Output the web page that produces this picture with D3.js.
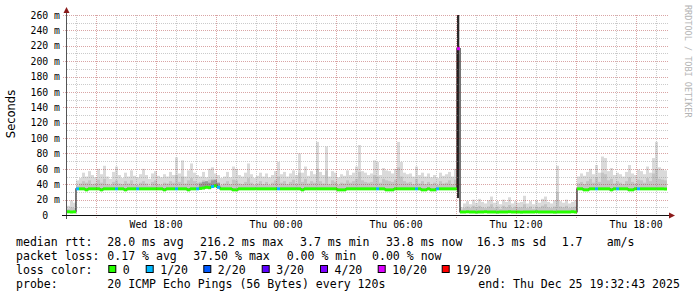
<!DOCTYPE html>
<html>
<head>
<meta charset="utf-8">
<script src="https://cdn.jsdelivr.net/npm/d3@7"></script>
<style>
body { margin: 0; background: #fff; }
svg { display: block; }
text { font-family: "DejaVu Sans Mono", monospace; }
</style>
</head>
<body>
<svg width="697" height="297"></svg>
<script>
var startTime = new Date(2025, 11, 24, 13, 32, 43);
var endTime = new Date(2025, 11, 25, 19, 32, 43);
var stepMs = 540 * 1000; // one consolidated sample every 9 minutes

// median rtt per sample (ms)
var median = [
    4.2, 3.9, 4.1, 34, 34, 34, 32.7, 34, 34, 34,
    34, 32.7, 34, 34, 34, 34, 34, 34, 34, 32.7,
    34, 34, 34, 34, 34, 34, 34, 34, 34, 34,
    34, 34, 32.7, 34, 34, 34, 34, 34, 34, 34,
    32.7, 34, 34, 34, 34.5, 35, 36, 35.5, 37, 38,
    36, 34, 34, 34, 34, 32.7, 32.7, 34, 34, 34,
    34, 34, 34, 34, 34, 34, 34, 34, 34, 34,
    34, 34, 34, 34, 34, 34, 34, 34, 32.7, 34,
    34, 34, 34, 34, 34, 34, 34, 34, 34, 34,
    32.7, 32.7, 32.7, 34, 34, 34, 34, 34, 34, 34,
    34, 34, 34, 34, 34, 34, 32.7, 32.7, 32.7, 34,
    34, 34, 34, 34, 34, 34, 34, 34, 32.7, 32.7,
    34, 32.7, 32.7, 34, 34, 34, 34, 34, 34, 34,
    216.2, 3.9, 3.9, 4.2, 3.9, 3.9, 3.7, 3.9, 3.9, 4.2,
    3.9, 3.9, 3.9, 3.7, 3.9, 3.9, 3.9, 4.2, 3.9, 3.9,
    3.9, 3.7, 3.9, 3.9, 3.9, 3.9, 4.2, 3.9, 3.9, 3.9,
    3.9, 3.9, 3.7, 3.9, 3.9, 3.9, 3.9, 3.9, 4.2, 3.9,
    34, 34, 32.7, 32.7, 34, 34, 34, 34, 34, 34,
    34, 32.7, 34, 34, 34, 34, 34, 32.7, 32.7, 34,
    34, 34, 34, 34, 34, 34, 34, 34, 34, 33.8
];

// upper smoke (slowest pings, ms)
var smokeHi = [
    12, 19, 16, 45, 48, 55, 50, 57, 52, 49,
    60, 53, 64, 50, 47, 56, 63, 52, 48, 55,
    50, 58, 51, 49, 53, 60, 52, 47, 54, 57,
    51, 49, 53, 50, 56, 52, 75, 54, 71, 50,
    58, 67, 55, 52, 50, 56, 49, 60, 62, 54,
    52, 48, 50, 56, 49, 63, 60, 52, 50, 55,
    67, 53, 48, 51, 55, 50, 54, 49, 52, 57,
    69, 53, 56, 50, 54, 58, 52, 80, 55, 63,
    51, 57, 53, 95, 56, 52, 89, 50, 57, 55,
    49, 53, 51, 58, 52, 55, 63, 91, 57, 55,
    52, 54, 71, 69, 52, 61, 58, 57, 54, 60,
    95, 69, 55, 53, 54, 50, 63, 52, 55, 50,
    54, 49, 52, 48, 55, 51, 53, 56, 50, 60,
    270, 10, 15, 18, 14, 20, 16, 21, 17, 15,
    19, 24, 16, 18, 14, 20, 17, 23, 15, 18,
    16, 17, 25, 15, 18, 14, 19, 16, 21, 24,
    17, 15, 19, 64, 18, 16, 20, 15, 17, 19,
    50, 54, 51, 56, 60, 53, 65, 55, 76, 74,
    57, 61, 52, 55, 53, 50, 56, 65, 54, 52,
    59, 57, 53, 63, 55, 74, 95, 62, 60, 58
];

// inner smoke (ms)
var smokeMid = [
    8, 10, 9, 38, 41, 44, 42, 45, 40, 41,
    46, 42, 47, 40, 39, 43, 45, 41, 40, 44,
    41, 45, 40, 39, 42, 44, 41, 38, 43, 45,
    40, 39, 42, 41, 44, 42, 52, 43, 50, 41,
    45, 48, 44, 42, 43, 45, 41, 46, 47, 44,
    42, 39, 41, 44, 40, 46, 45, 41, 40, 43,
    48, 42, 39, 41, 44, 40, 43, 39, 42, 45,
    50, 42, 44, 40, 43, 46, 41, 55, 43, 47,
    41, 44, 42, 60, 44, 41, 58, 40, 45, 43,
    39, 42, 41, 45, 42, 44, 47, 56, 45, 43,
    42, 43, 52, 50, 42, 47, 45, 44, 43, 46,
    62, 50, 44, 42, 43, 40, 47, 41, 44, 40,
    43, 40, 42, 39, 44, 41, 42, 45, 40, 46,
    270, 7, 9, 11, 9, 12, 10, 12, 10, 9,
    11, 14, 9, 11, 8, 12, 10, 13, 9, 11,
    10, 10, 14, 9, 11, 8, 11, 10, 12, 14,
    10, 9, 11, 30, 11, 10, 12, 9, 10, 11,
    41, 43, 40, 44, 47, 42, 49, 43, 55, 53,
    45, 47, 41, 44, 42, 40, 44, 49, 43, 41,
    46, 45, 42, 48, 44, 54, 60, 47, 46, 45
];

// dense smoke patches
var darkIdx = [44, 45, 46, 47, 48, 49, 50, 130];
var darkLo = [34, 35, 36, 36, 37, 38, 36, 22];
var darkHi = [41, 43, 44, 42, 45, 46, 42, 275];

// samples with packet loss (lost pings out of 20)
var lossIdx = [3, 16, 23, 36, 43, 48, 50, 70, 103, 116, 123, 130, 176, 183, 190];
var lossCount = [1, 1, 1, 1, 1, 1, 1, 1, 1, 1, 1, 10, 1, 1, 1];

var lossLevels = [0, 1, 2, 3, 4, 10, 19];
var lossLabels = ["0", "1/20", "2/20", "3/20", "4/20", "10/20", "19/20"];
var lossColors = ["#26ff00", "#00b8ff", "#0059ff", "#5e00ff", "#7e00ff", "#dd00ff", "#ff0000"];

var yTicks = [0, 20, 40, 60, 80, 100, 120, 140, 160, 180, 200, 220, 240, 260];

var rttLegend = ["median rtt:", "28.0 ms avg", "216.2 ms max", "3.7 ms min", "33.8 ms now", "16.3 ms sd", "1.7", "am/s"];
var lossLegend = ["packet loss:", "0.17 % avg", "37.50 % max", "0.00 % min", "0.00 % now"];
var probeLegend = ["probe:", "20 ICMP Echo Pings (56 Bytes) every 120s", "end: Thu Dec 25 19:32:43 2025"];

// legend layout
var rttX = [16, 107.3, 200, 300, 386, 476.7, 561.7, 606.7];
var lossX = [16, 107.3, 193.3, 286.7, 372];
var probeX = [16, 107.3, 478.3];
var boxX = [108.3, 145.7, 203.3, 261.7, 320, 377.7, 441.7];

var svg = d3.select("svg");
svg.append("rect").attr("width", 697).attr("height", 297).attr("fill", "#fff");

var xScale = d3.scaleTime().domain([startTime, endTime]).range([67, 667]);
var yScale = d3.scaleLinear().domain([0, 260]).range([215, 15]);

var times = median.map((d, i) => new Date(+startTime + i * stepMs));
function tEnd(i) { return new Date(+startTime + (i + 1) * stepMs); }

function lossColor(n) {
    var c = lossColors[0];
    lossLevels.forEach((l, k) => { if (n >= l) c = lossColors[k]; });
    return c;
}
var lossBySample = median.map(() => 0);
lossIdx.forEach((s, k) => { lossBySample[s] = lossCount[k]; });

svg.append("clipPath").attr("id", "plot")
    .append("rect").attr("x", 67).attr("y", 15).attr("width", 600).attr("height", 200);

var plot = svg.append("g").attr("clip-path", "url(#plot)");

// Smoke: light outer layer
plot.selectAll(".smokeHi").data(smokeHi).enter().append("rect")
    .attr("x", (d, i) => xScale(times[i]))
    .attr("width", (d, i) => xScale(tEnd(i)) - xScale(times[i]))
    .attr("y", d => yScale(d))
    .attr("height", (d, i) => Math.max(0, yScale(median[i]) - yScale(d)))
    .attr("fill", "#dadada");

// Smoke: inner layer
plot.selectAll(".smokeMid").data(smokeMid).enter().append("rect")
    .attr("x", (d, i) => xScale(times[i]))
    .attr("width", (d, i) => xScale(tEnd(i)) - xScale(times[i]))
    .attr("y", d => yScale(d))
    .attr("height", (d, i) => Math.max(0, yScale(median[i]) - yScale(d)))
    .attr("fill", "#c4c4c4");

// Smoke: dense patches (the spike one is narrower)
plot.selectAll(".smokeDark").data(darkIdx).enter().append("rect")
    .attr("x", d => xScale(times[d]))
    .attr("width", (d, k) => darkHi[k] > 100 ? 2 : 3)
    .attr("y", (d, k) => yScale(darkHi[k]))
    .attr("height", (d, k) => yScale(darkLo[k]) - yScale(darkHi[k]))
    .attr("fill", (d, k) => darkHi[k] > 100 ? "#2a2a2a" : "#9a9a9a");

// Grid
var minorH = d3.range(10, 260, 20);
var majorH = yTicks.filter(d => d > 0);
var hourTicks = xScale.ticks(d3.timeHour.every(1));
var majorV = hourTicks.filter(d => d.getHours() % 3 === 0);
var minorV = hourTicks.filter(d => d.getHours() % 3 !== 0);

var grid = svg.append("g");
grid.selectAll(".hmin").data(minorH).enter().append("line")
    .attr("x1", 67).attr("x2", 668)
    .attr("y1", d => Math.round(yScale(d)) + 0.5).attr("y2", d => Math.round(yScale(d)) + 0.5)
    .attr("stroke", "rgba(140,140,140,0.45)").attr("stroke-dasharray", "1,1");
grid.selectAll(".vmin").data(minorV).enter().append("line")
    .attr("x1", d => Math.round(xScale(d)) + 0.5).attr("x2", d => Math.round(xScale(d)) + 0.5)
    .attr("y1", 15).attr("y2", 215)
    .attr("stroke", "rgba(140,140,140,0.45)").attr("stroke-dasharray", "1,1");
grid.selectAll(".hmaj").data(majorH).enter().append("line")
    .attr("x1", 63).attr("x2", 668)
    .attr("y1", d => Math.round(yScale(d)) + 0.5).attr("y2", d => Math.round(yScale(d)) + 0.5)
    .attr("stroke", "rgba(160,30,30,0.4)").attr("stroke-dasharray", "1,1");
grid.selectAll(".vmaj").data(majorV).enter().append("line")
    .attr("x1", d => Math.round(xScale(d)) + 0.5).attr("x2", d => Math.round(xScale(d)) + 0.5)
    .attr("y1", 15).attr("y2", 218)
    .attr("stroke", "rgba(160,30,30,0.4)").attr("stroke-dasharray", "1,1");

// Median line (thin dark step line)
var stepPoints = times.map((t, i) => [t, median[i]]);
stepPoints.push([tEnd(median.length - 1), median[median.length - 1]]);
plot.append("path")
    .attr("d", d3.line().x(d => xScale(d[0])).y(d => yScale(d[1])).curve(d3.curveStepAfter)(stepPoints))
    .attr("fill", "none")
    .attr("stroke", "#1a1a1a")
    .attr("stroke-width", 1.2);

// Median coloured by loss
plot.selectAll(".med").data(median).enter().append("line")
    .attr("x1", (d, i) => xScale(times[i]))
    .attr("x2", (d, i) => xScale(tEnd(i)))
    .attr("y1", d => yScale(d))
    .attr("y2", d => yScale(d))
    .attr("stroke", (d, i) => lossColor(lossBySample[i]))
    .attr("stroke-width", 3);

// Axes
svg.append("line").attr("x1", 66.5).attr("x2", 66.5).attr("y1", 12).attr("y2", 219)
    .attr("stroke", "#555");
svg.append("line").attr("x1", 62).attr("x2", 670).attr("y1", 215.5).attr("y2", 215.5)
    .attr("stroke", "#111");
svg.append("path").attr("d", "M63.5,13L69.5,13L66.5,7Z").attr("fill", "#8b1a1a");
svg.append("path").attr("d", "M669,212.5L669,218.5L675,215.5Z").attr("fill", "#8b1a1a");

// Y tick labels
svg.selectAll(".ylab").data(yTicks).enter().append("text")
    .attr("x", d => d === 0 ? 60 - 2 * 5.9 : 60)
    .attr("y", d => yScale(d) + 3.7)
    .attr("text-anchor", "end")
    .style("font-size", "9.8px")
    .attr("fill", "#000")
    .text(d => d === 0 ? "0" : d + " m");

// X tick labels
var labelTicks = hourTicks.filter(d => d.getHours() % 6 === 0);
svg.selectAll(".xlab").data(labelTicks).enter().append("text")
    .attr("x", d => xScale(d))
    .attr("y", 227.5)
    .attr("text-anchor", "middle")
    .style("font-size", "9.8px")
    .attr("fill", "#000")
    .text(d3.timeFormat("%a %H:%M"));

// Y axis title
svg.append("text")
    .attr("transform", "translate(15,114) rotate(-90)")
    .attr("text-anchor", "middle")
    .style("font-family", "'DejaVu Sans', sans-serif")
    .style("font-size", "11.5px")
    .attr("fill", "#000")
    .text("Seconds");

// Watermark
svg.append("text")
    .attr("transform", "translate(685,5) rotate(90)")
    .style("font-size", "8.5px")
    .attr("fill", "#b4b4b4")
    .text("RRDTOOL / TOBI OETIKER");

// Legend
var legend = svg.append("g").style("font-size", "11.56px").attr("fill", "#000");
rttLegend.forEach((t, k) => legend.append("text").attr("x", rttX[k]).attr("y", 245.5).text(t));
lossLegend.forEach((t, k) => legend.append("text").attr("x", lossX[k]).attr("y", 259.5).text(t));
legend.append("text").attr("x", 16).attr("y", 273.5).text("loss color:");
lossLabels.forEach((t, k) => {
    legend.append("rect")
        .attr("x", boxX[k] + 0.5).attr("y", 265.5)
        .attr("width", 7).attr("height", 7)
        .attr("fill", lossColors[k]).attr("stroke", "#000");
    legend.append("text").attr("x", boxX[k] + 14.5).attr("y", 273.5).text(t);
});
probeLegend.forEach((t, k) => legend.append("text").attr("x", probeX[k]).attr("y", 287.5).text(t));
</script>
</body>
</html>
